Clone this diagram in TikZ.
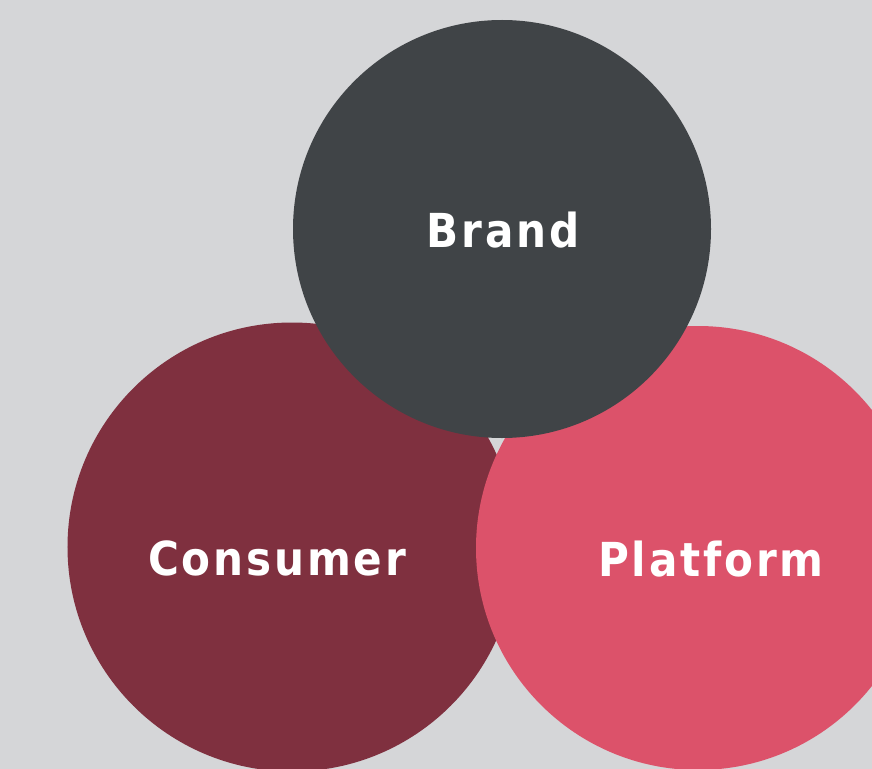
\documentclass[tikz,border=0pt]{standalone}
\usepackage{fontspec}
\setmainfont{DejaVu Sans}
\newfontfamily\labelfont[LetterSpace=6]{DejaVu Sans Condensed}
\usetikzlibrary{calc}
\definecolor{bgcol}{RGB}{213,214,216}
\definecolor{brandcol}{RGB}{64,68,71}
\definecolor{consumercol}{RGB}{127,48,63}
\definecolor{platformcol}{RGB}{220,82,106}
\begin{document}
\begin{tikzpicture}[x=1bp,y=-1bp,
  disc/.style={circle, inner sep=0pt, draw=none},
  word/.style={text=white, font=\labelfont\bfseries\fontsize{47}{50}\selectfont, inner sep=0pt}]
  \useasboundingbox (0,0) rectangle (872,769);
  \fill[bgcol] (0,0) rectangle (872,769);
  % the three discs, brand on top
  \node[disc, fill=consumercol, minimum size=449bp] (consumer) at (292,547) {};
  \node[disc, fill=platformcol, minimum size=444bp] (platform) at (698,548) {};
  \node[disc, fill=brandcol, minimum size=418bp] (brand) at (502,229) {};
  % labels
  \node[word] (brandtxt) at ($(brand)+(1,1)$) {Brand};
  \node[word] (consumertxt) at ($(consumer)+(-15,11)$) {Consumer};
  \node[word] (platformtxt) at ($(platform)+(13,11)$) {Platform};
\end{tikzpicture}
\end{document}
